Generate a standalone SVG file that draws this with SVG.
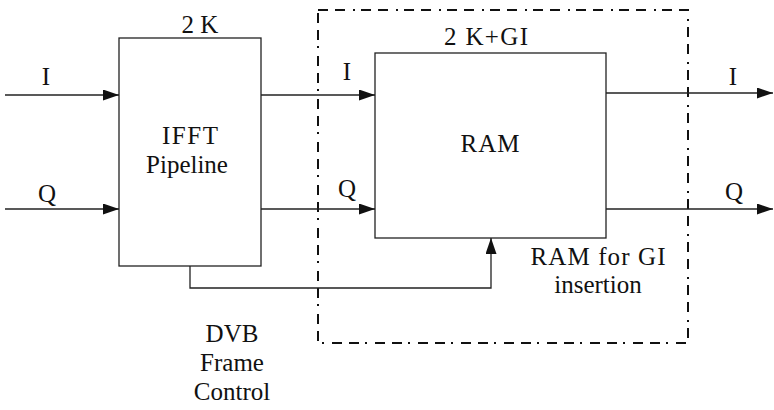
<svg xmlns="http://www.w3.org/2000/svg" width="774" height="410" viewBox="0 0 774 410">
<style>
text{font-family:'Liberation Serif','DejaVu Serif',serif;font-size:25px;fill:#111;text-anchor:middle}
.box{fill:#fff;stroke:#222;stroke-width:1.3}
.wire{fill:none;stroke:#222;stroke-width:1.3}
.frame{fill:none;stroke:#111;stroke-width:2;stroke-dasharray:10 7 10 8 2 6}
</style>
<defs>
<marker id="arr" markerWidth="16" markerHeight="11" refX="16" refY="5.5" orient="auto" markerUnits="userSpaceOnUse">
<path d="M0,0 L16,5.5 L0,11 Z" fill="#111"/>
</marker>
</defs>
<rect width="774" height="410" fill="#fff"/>
<g id="gi-frame" font-family="Liberation Serif, serif">
<rect class="frame" x="318" y="10" width="370" height="333"/>
<text x="598" y="265" textLength="135" lengthAdjust="spacing">RAM for GI</text>
<text x="598" y="293">insertion</text>
</g>
<g id="ifft" font-family="Liberation Serif, serif">
<rect class="box" x="119" y="38" width="142" height="228"/>
<text x="200" y="33">2 K</text>
<text x="190" y="144" textLength="56" lengthAdjust="spacing">IFFT</text>
<text x="187" y="173">Pipeline</text>
</g>
<g id="ram" font-family="Liberation Serif, serif">
<rect class="box" x="375" y="53" width="231" height="185"/>
<text x="486" y="45" textLength="84" lengthAdjust="spacing">2 K+GI</text>
<text x="490" y="152" textLength="59" lengthAdjust="spacing">RAM</text>
</g>
<g id="dvb-control" font-family="Liberation Serif, serif">
<text x="232" y="342">DVB</text>
<text x="232" y="371">Frame</text>
<text x="232" y="400">Control</text>
</g>
<g id="connectors" font-family="Liberation Serif, serif">
<path class="wire" d="M5,95 H119" marker-end="url(#arr)"/>
<path class="wire" d="M5,209 H119" marker-end="url(#arr)"/>
<path class="wire" d="M261,95 H375" marker-end="url(#arr)"/>
<path class="wire" d="M261,209 H375" marker-end="url(#arr)"/>
<path class="wire" d="M606,93 H773" marker-end="url(#arr)"/>
<path class="wire" d="M606,209 H773" marker-end="url(#arr)"/>
<path class="wire" d="M190,266 V288 H491 V238" marker-end="url(#arr)"/>
<text x="46" y="85">I</text>
<text x="47" y="202">Q</text>
<text x="347" y="80">I</text>
<text x="347" y="197">Q</text>
<text x="733" y="85">I</text>
<text x="734" y="200">Q</text>
</g>
</svg>
